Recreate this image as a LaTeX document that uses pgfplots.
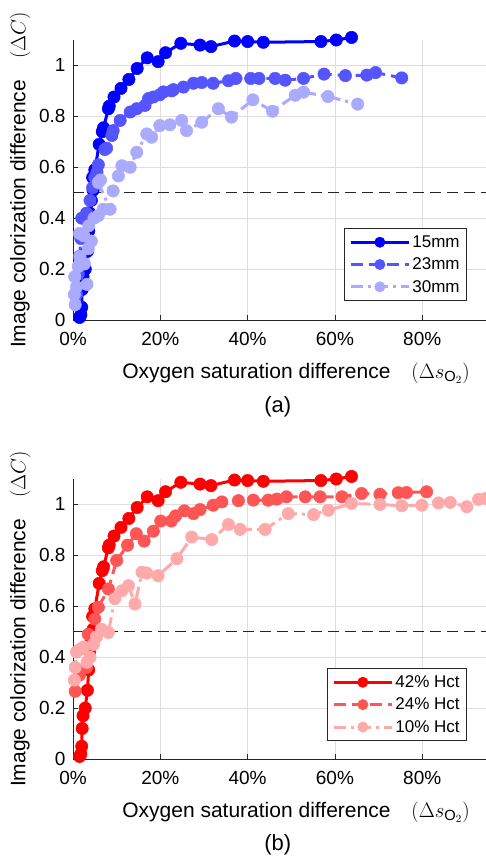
\documentclass[border=0pt]{standalone}
\usepackage{fontspec}
\setmainfont{Liberation Sans}
\usepackage{pgfplots}
\pgfplotsset{compat=1.18}
\definecolor{bA}{RGB}{0,0,255}
\definecolor{bB}{RGB}{85,85,255}
\definecolor{bC}{RGB}{170,170,255}
\definecolor{rA}{RGB}{255,0,0}
\definecolor{rB}{RGB}{255,85,85}
\definecolor{rC}{RGB}{255,170,170}
\definecolor{axgray}{RGB}{38,38,38}
\definecolor{gridgray}{RGB}{222,222,222}
\pgfplotsset{
  myaxis/.style={
    scale only axis, width=413pt, height=280pt,
    xmin=0, xmax=94.6, ymin=0, ymax=1.1,
    axis x line*=bottom, axis y line*=left,
    axis line style={axgray, line width=0.8pt, -},
    tick align=inside, tick style={axgray, line width=0.8pt},
    major tick length=5pt,
    xtick={0,20,40,60,80}, xticklabels={0\%,20\%,40\%,60\%,80\%},
    ytick={0,0.2,0.4,0.6,0.8,1},
    yticklabels={0,0.2,0.4,0.6,0.8,1},
    ymajorgrids, xmajorgrids,
    grid style={gridgray, line width=0.8pt},
    ticklabel style={font=\fontsize{19}{22}\selectfont, text=black},
    xticklabel style={yshift=-9pt},
    yticklabel style={xshift=-4pt},
    /pgf/number format/assume math mode=true,
    clip=false,
    xlabel={Oxygen saturation difference\quad$(\Delta s_{\mathrm{O}_2})$},
    ylabel={Image colorization difference\quad$(\Delta C)$},
    label style={font=\fontsize{21}{24}\selectfont},
    xlabel style={at={(axis description cs:0.54,-0.19)}, anchor=center},
    ylabel style={at={(axis description cs:-0.128,0.5)}, anchor=center},
    legend cell align=left,
    legend style={font=\fontsize{17}{20}\selectfont, draw=axgray, line width=0.8pt,
      inner xsep=5pt, inner ysep=5pt, row sep=5pt},
    legend image code/.code={\draw[mark repeat=2,mark phase=2,mark size=5.2pt,#1] plot coordinates {(0pt,0pt) (29pt,0pt) (58pt,0pt)};},
  },
  ser/.style={color=#1, line width=3pt, mark=*, mark size=6.2pt, mark options={solid, fill=#1, draw=#1, line width=0.5pt}},
  refline/.style={forget plot, axgray, line width=0.9pt, dash pattern=on 11pt off 6pt},
}
\begin{document}
\begin{tikzpicture}
\useasboundingbox (-73pt,-542pt) rectangle (413pt,320pt);
% ---------------- (a) ----------------
\begin{axis}[myaxis,
  legend style={at={(0.954,0.068)}, anchor=south east},
  extra description/.code={\node[font=\fontsize{22}{25}\selectfont] at (0.496,-0.311) {(a)};}]
\addplot[refline] coordinates {(0,0.5) (94.6,0.5)};
\addplot[ser=bA] coordinates {
(1.5,0.01) (1.8,0.02) (2.0,0.05) (2.1,0.12) (2.3,0.17) (2.8,0.20) (3.3,0.27) (3.6,0.35)
(3.8,0.42) (4.2,0.47) (4.6,0.51) (4.5,0.56) (5.0,0.59) (6.0,0.69) (6.7,0.74) (7.0,0.755)
(8.1,0.83) (8.3,0.84) (9.4,0.876) (11.0,0.91) (12.8,0.945) (14.7,0.988) (17.0,1.03)
(19.5,1.015) (21.2,1.05) (24.7,1.087) (29.1,1.08) (31.6,1.074) (37.0,1.096) (40.0,1.094)
(43.6,1.091) (56.8,1.094) (60.3,1.10) (63.8,1.11)};
\addlegendentry{15mm}
\addplot[ser=bB, dash pattern=on 12pt off 6pt] coordinates {
(0.8,0.10) (1.2,0.18) (1.5,0.25) (1.8,0.32) (2.0,0.40) (3.1,0.42) (3.9,0.47) (4.5,0.52)
(5.0,0.56) (5.5,0.58) (5.8,0.61) (7.3,0.67) (7.7,0.675) (8.9,0.725) (9.2,0.744) (10.8,0.784)
(13.1,0.817) (14.6,0.83) (16.5,0.843) (17.3,0.87) (18.4,0.876) (19.9,0.885) (20.7,0.896)
(22.6,0.90) (23.0,0.905) (25.3,0.915) (27.6,0.93) (29.5,0.933) (32.1,0.93) (35.6,0.94)
(37.3,0.949) (40.7,0.949) (42.6,0.949) (46.3,0.949) (48.6,0.942) (52.8,0.949) (57.5,0.966)
(62.4,0.96) (67.3,0.962) (69.3,0.972) (75.3,0.951)};
\addlegendentry{23mm}
\addplot[ser=bC, dash pattern=on 12pt off 5pt on 3pt off 5pt] coordinates {
(0.5,0.06) (0.3,0.10) (0.8,0.13) (0.4,0.17) (1.2,0.21) (1.6,0.25) (2.6,0.22) (3.2,0.14)
(3.5,0.28) (4.2,0.31) (1.5,0.34) (2.5,0.33) (3.6,0.37) (4.8,0.40) (5.8,0.41) (6.9,0.435)
(8.5,0.435) (5.8,0.54) (6.3,0.55) (9.2,0.507) (10.4,0.566) (11.2,0.606) (13.1,0.60)
(14.6,0.659) (16.9,0.731) (18.0,0.718) (19.9,0.764) (22.2,0.767) (24.9,0.784) (26.0,0.744)
(29.5,0.777) (33.3,0.83) (36.3,0.797) (41.2,0.865) (45.7,0.82) (50.9,0.883) (52.8,0.895)
(58.4,0.878) (65.2,0.848)};
\addlegendentry{30mm}
\end{axis}
% ---------------- (b) ----------------
\begin{axis}[myaxis, at={(0pt,-439pt)},
  legend style={at={(0.954,0.064)}, anchor=south east},
  extra description/.code={\node[font=\fontsize{22}{25}\selectfont] at (0.496,-0.307) {(b)};}]
\addplot[refline] coordinates {(0,0.5) (94.6,0.5)};
\addplot[ser=rA] coordinates {
(1.5,0.01) (1.8,0.02) (2.0,0.05) (2.1,0.12) (2.3,0.17) (2.8,0.20) (3.3,0.27) (3.6,0.35)
(3.8,0.42) (4.2,0.47) (4.6,0.51) (4.5,0.56) (5.0,0.59) (6.0,0.69) (6.7,0.74) (7.0,0.755)
(8.1,0.83) (8.3,0.84) (9.4,0.876) (11.0,0.91) (12.8,0.945) (14.7,0.988) (17.0,1.03)
(19.5,1.015) (21.2,1.05) (24.7,1.087) (29.1,1.08) (31.6,1.074) (37.0,1.096) (40.0,1.094)
(43.6,1.091) (56.8,1.094) (60.3,1.10) (63.8,1.11)};
\addlegendentry{42\% Hct}
\addplot[ser=rB, dash pattern=on 12pt off 6pt] coordinates {
(0.5,0.266) (1.5,0.33) (3.1,0.36) (2.8,0.44) (3.5,0.49) (5.0,0.55) (5.8,0.596) (8.1,0.668)
(10.0,0.78) (12.5,0.84) (14.5,0.885) (16.3,0.856) (18.4,0.895) (20.1,0.935) (22.5,0.935)
(23.5,0.955) (25.5,0.975) (27.6,0.964) (29.1,0.98) (32.1,0.997) (34.1,1.01) (37.9,1.015)
(41.3,1.017) (44.7,1.017) (46.7,1.021) (48.9,1.03) (53.2,1.03) (56.6,1.03) (61.6,1.03)
(66.1,1.043) (70.3,1.04) (74.5,1.046) (76.4,1.047) (81.0,1.05)};
\addlegendentry{24\% Hct}
\addplot[ser=rC, dash pattern=on 12pt off 5pt on 3pt off 5pt] coordinates {
(0.3,0.31) (0.5,0.36) (0.8,0.42) (1.5,0.43) (2.4,0.44) (3.2,0.38) (3.9,0.40) (4.7,0.45)
(5.4,0.48) (6.5,0.51) (8.1,0.497) (9.6,0.63) (11.2,0.661) (12.7,0.681) (14.2,0.609)
(15.8,0.734) (16.9,0.73) (19.5,0.72) (23.8,0.787) (27.2,0.872) (31.8,0.862) (35.6,0.921)
(38.3,0.902) (44.0,0.902) (49.3,0.964) (55.1,0.96) (58.5,0.977) (63.8,1.004) (70.3,1.0)
(75.3,0.995) (79.9,0.997) (83.7,1.006) (86.4,1.008) (90.2,0.991) (92.9,1.02) (94.6,1.024)};
\addlegendentry{10\% Hct}
\end{axis}
\end{tikzpicture}
\end{document}
